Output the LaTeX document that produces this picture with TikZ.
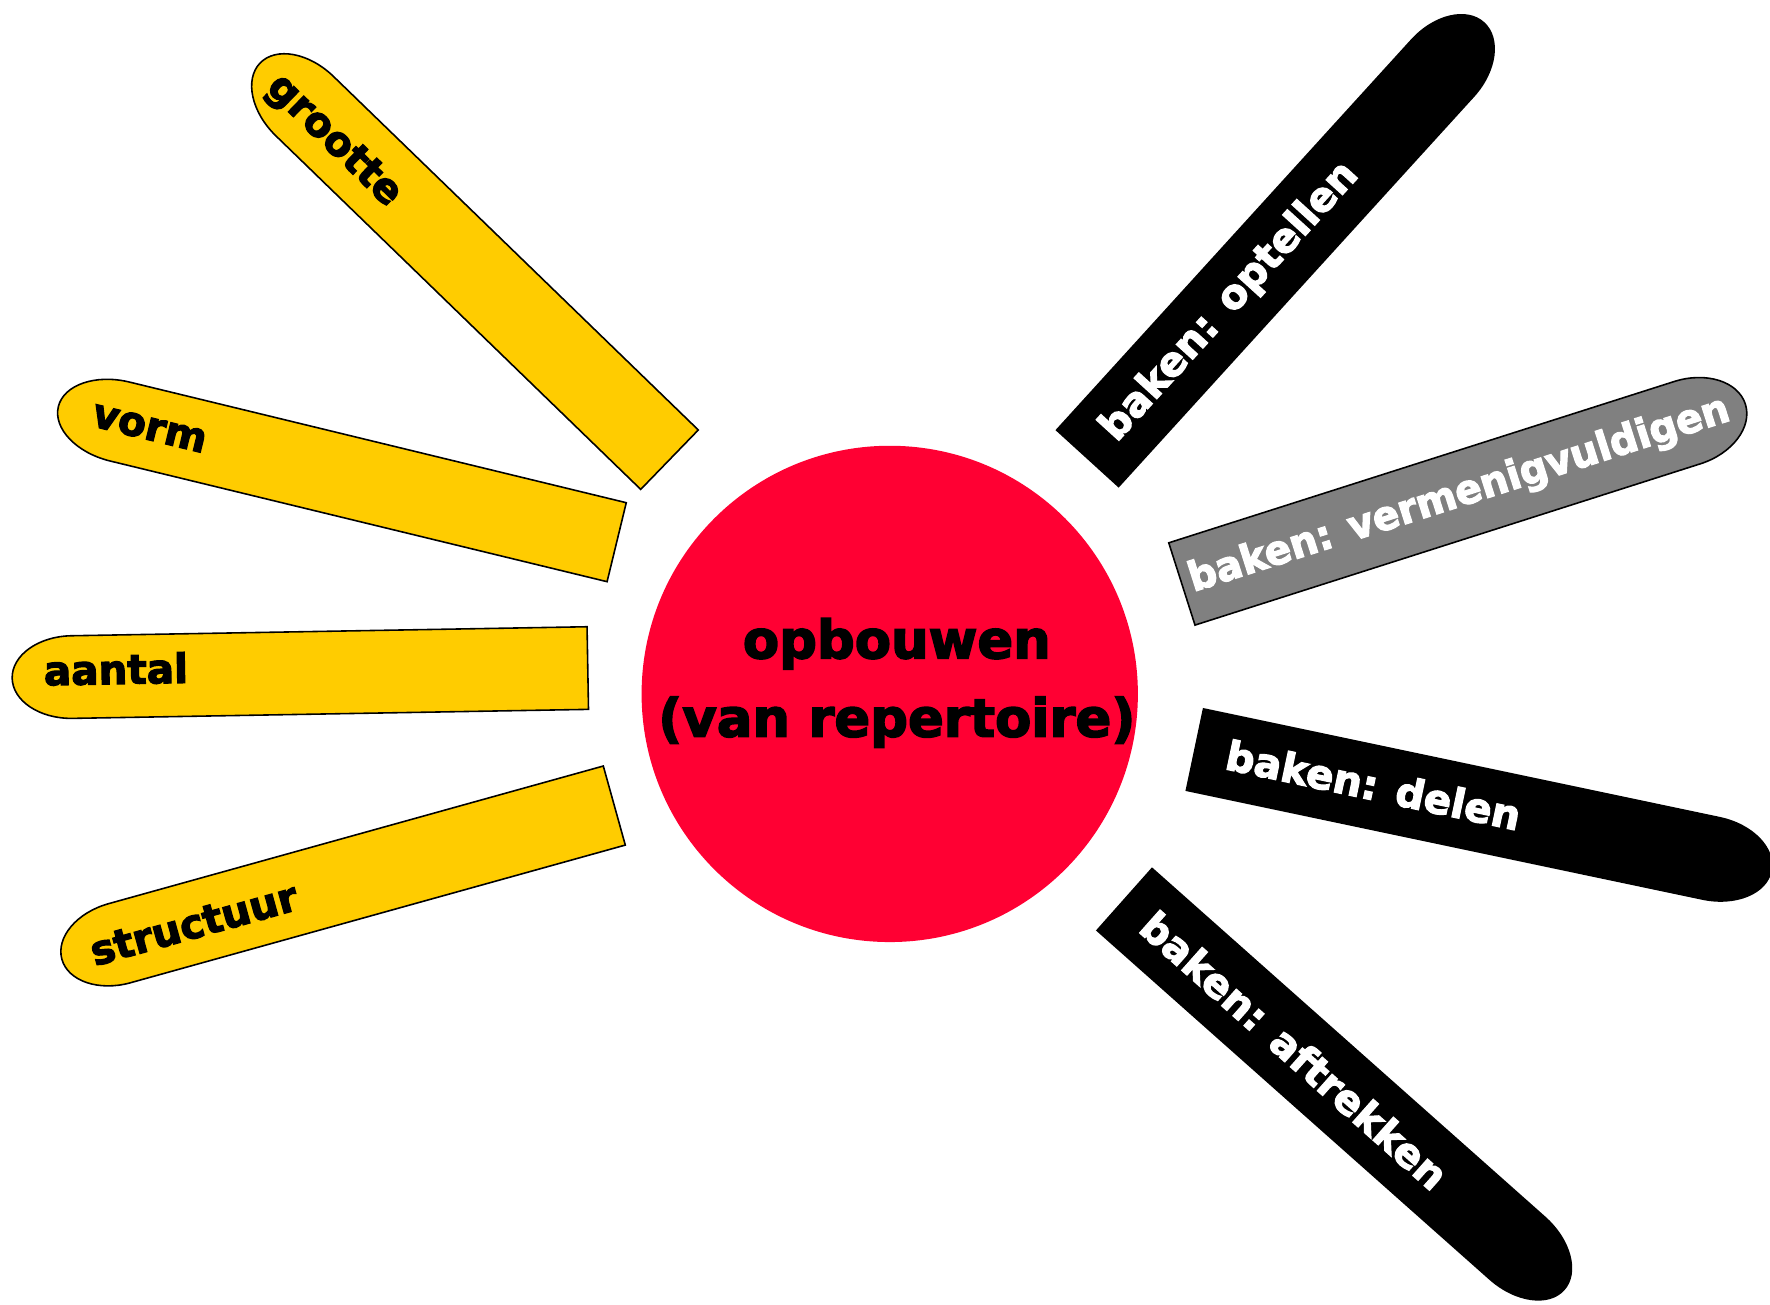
\documentclass[tikz,border=0pt]{standalone}
\usepackage{fontspec}
\setmainfont{DejaVu Sans}
\newfontfamily\heavyfont{DejaVu Sans}[BoldFeatures={FakeBold=3}]
\definecolor{barYellow}{HTML}{FFCC00}
\definecolor{hubRed}{HTML}{FF0033}
\definecolor{barGrey}{HTML}{808080}
\begin{document}
\begin{tikzpicture}[x=0.01cm,y=0.01cm,
  yellowbar/.style={fill=barYellow,draw=black,line width=0.4pt},
  blackbar/.style={fill=black},
  greybar/.style={fill=barGrey,draw=black,line width=0.4pt},
  darklbl/.style={font=\heavyfont\bfseries\fontsize{10.2}{12}\selectfont,text=black,inner sep=0pt},
  lightlbl/.style={darklbl,text=white},
  hubtext/.style={font=\heavyfont\bfseries\fontsize{13.3}{16}\selectfont,text=black,inner sep=0pt}]
\useasboundingbox (0,0) rectangle (1568,-1156);

% central circle
\node[circle,fill=hubRed,minimum size=4.394cm,inner sep=0pt] (hub) at (788.2,-614.7) {};
\node[hubtext,anchor=base] (hubtop) at (794.5,-583.2) {opbouwen};
\node[hubtext,anchor=base] (hubbot) at (794.5,-652.6) {(van repertoire)};

% yellow bars
\begin{scope}[shift={(593.1,-407.2)},rotate=135.9]
  \path[yellowbar] (0,-36.65) -- (450,-36.65) arc[start angle=-90,end angle=90,x radius=55,y radius=36.65] -- (0,36.65) -- cycle;
  \node[darklbl,rotate=-44.1] (grootte) at (410,5) {grootte};
\end{scope}
\begin{scope}[shift={(546.3,-480.3)},rotate=166.35]
  \path[yellowbar] (0,-36) -- (453,-36) arc[start angle=-90,end angle=90,x radius=56,y radius=36] -- (0,36) -- cycle;
  \node[darklbl,rotate=-13.65] (vorm) at (426,0) {vorm};
\end{scope}
\begin{scope}[shift={(520.7,-591.8)},rotate=181.0]
  \path[yellowbar] (0,-36.6) -- (457,-36.6) arc[start angle=-90,end angle=90,x radius=53,y radius=36.6] -- (0,36.6) -- cycle;
  \node[darklbl,rotate=1.0] (aantal) at (418,-6.5) {aantal};
\end{scope}
\begin{scope}[shift={(544.2,-713.6)},rotate=195.55]
  \path[yellowbar] (0,-36.35) -- (455,-36.35) arc[start angle=-90,end angle=90,x radius=53,y radius=36.35] -- (0,36.35) -- cycle;
  \node[darklbl,rotate=15.55] (structuur) at (387,1.4) {structuur};
\end{scope}

% black and grey bars
\begin{scope}[shift={(963,-406.5)},rotate=47.7]
  \path[blackbar] (0,-37.85) -- (468,-37.85) arc[start angle=-90,end angle=90,x radius=55,y radius=37.85] -- (0,37.85) -- cycle;
  \node[lightlbl,rotate=47.7] (optellen) at (188,0) {baken: optellen};
\end{scope}
\begin{scope}[shift={(1047,-517.3)},rotate=17.7]
  \path[greybar] (0,-38.25) -- (470,-38.25) arc[start angle=-90,end angle=90,x radius=54,y radius=38.25] -- (0,38.25) -- cycle;
  \node[lightlbl,rotate=17.7,xscale=0.965] (vermenigvuldigen) at (258,0) {baken: vermenigvuldigen};
\end{scope}
\begin{scope}[shift={(1057.9,-663.9)},rotate=-11.9]
  \path[blackbar] (0,-37.55) -- (468,-37.55) arc[start angle=-90,end angle=90,x radius=55,y radius=37.55] -- (0,37.55) -- cycle;
  \node[lightlbl,rotate=-11.9] (delen) at (162,2) {baken: delen};
\end{scope}
\begin{scope}[shift={(995.7,-796.3)},rotate=-41.6]
  \path[blackbar] (0,-37.4) -- (466,-37.4) arc[start angle=-90,end angle=90,x radius=56,y radius=37.4] -- (0,37.4) -- cycle;
  \node[lightlbl,rotate=-41.6] (aftrekken) at (202,0) {baken: aftrekken};
\end{scope}
\end{tikzpicture}
\end{document}
